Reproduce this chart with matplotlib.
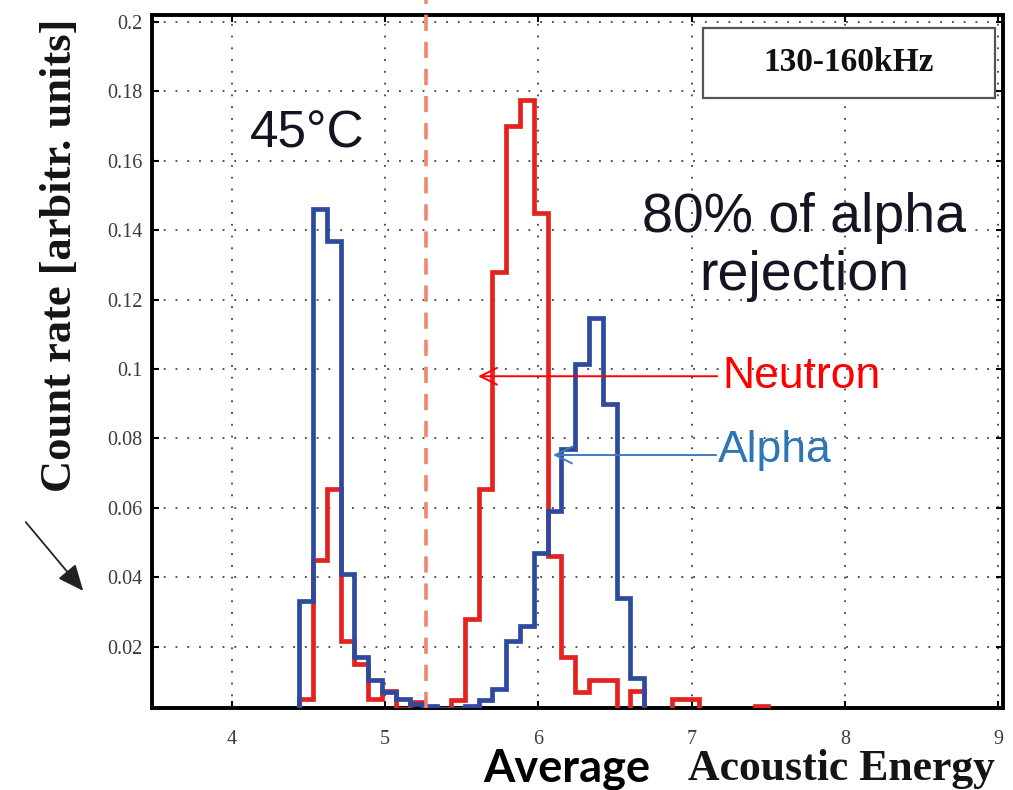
import matplotlib.pyplot as plt
from matplotlib.patches import Rectangle, FancyArrowPatch
from matplotlib.ticker import FixedLocator, FormatStrFormatter

# histogram bin edges (average acoustic energy)
edges = [4.44, 4.53, 4.62, 4.71, 4.80, 4.89, 4.98, 5.07, 5.16, 5.25, 5.34,
         5.43, 5.52, 5.61, 5.70, 5.79, 5.88, 5.97, 6.06, 6.15, 6.24, 6.33,
         6.42, 6.51, 6.60, 6.69, 6.78, 6.87, 6.96, 7.05, 7.14, 7.23, 7.32,
         7.41, 7.50]

# count rate per bin
neutron = [0.005, 0.045, 0.0654, 0.0215, 0.015, 0.005, 0.0073, 0.002, 0.004,
           0.002, 0.002, 0.0046, 0.028, 0.0654, 0.128, 0.170, 0.1776, 0.145,
           0.046, 0.017, 0.0068, 0.0103, 0.0103, 0.0, 0.0073, 0.0, 0.0, 0.005,
           0.005, 0.0, 0.0, 0.0, 0.0, 0.003]
alpha = [0.033, 0.146, 0.137, 0.041, 0.017, 0.0105, 0.007, 0.005, 0.0034,
         0.003, 0.002, 0.002, 0.003, 0.0046, 0.0078, 0.0215, 0.026, 0.047,
         0.059, 0.077, 0.1015, 0.1147, 0.090, 0.034, 0.011]

cut = 5.27          # dashed cut line
xticks = [4, 5, 6, 7, 8, 9]
yticks = [0.02, 0.04, 0.06, 0.08, 0.1, 0.12, 0.14, 0.16, 0.18, 0.2]

serif = 'Liberation Serif'
sans = 'Liberation Sans'

fig = plt.figure(figsize=(10.13, 7.9), dpi=100)
ax = fig.add_axes([152 / 1013, 82 / 790, 851 / 1013, 693 / 790])

ax.stairs(neutron, edges[:len(neutron) + 1], baseline=0, color='#E42321',
          lw=3.4, zorder=3)
ax.stairs(alpha, edges[:len(alpha) + 1], baseline=0, color='#2E4A9E',
          lw=3.4, zorder=4)

ax.axvline(cut, ymin=0, ymax=1.022, clip_on=False, color='#F0866A', lw=2.6,
           dashes=(4.5, 3), zorder=5)

ax.set_xlim(3.48, 9.03)
ax.set_ylim(0.0023, 0.202)
ax.xaxis.set_major_locator(FixedLocator(xticks))
ax.yaxis.set_major_locator(FixedLocator(yticks))
ax.yaxis.set_major_formatter(FormatStrFormatter('%g'))
ax.grid(True, color='#222222', lw=1.1, linestyle=(0, (1.2, 6.5)))
ax.tick_params(direction='in', length=5, width=1.5, top=True, right=True,
               labelcolor='#3c3c3c', labelsize=14.5)
ax.tick_params(axis='x', pad=16)
ax.tick_params(axis='y', pad=7)
for lab in ax.get_xticklabels() + ax.get_yticklabels():
    lab.set_family(serif)
for s in ax.spines.values():
    s.set_linewidth(2.8)

# frequency box
ax.add_patch(Rectangle((0.6475, 0.880), 0.343, 0.101, transform=ax.transAxes,
                       facecolor='white', edgecolor='#555555', lw=1.6,
                       zorder=6))
ax.text(0.819, 0.931, '130-160kHz', transform=ax.transAxes, ha='center',
        va='center', family=serif, weight='bold', fontsize=24,
        color='#111111', zorder=7)

ax.text(4.12, 0.1639, '45°C', family=sans, fontsize=37, color='#141422')
ax.text(7.733, 0.1394, '80% of alpha', family=sans, fontsize=40,
        color='#141422', ha='center')
ax.text(7.733, 0.1227, 'rejection', family=sans, fontsize=40,
        color='#141422', ha='center')

ax.text(7.198, 0.0945, 'Neutron', family=sans, fontsize=32, color='#FF0000')
ax.text(7.172, 0.0732, 'Alpha', family=sans, fontsize=32, color='#2E75B6')
ax.annotate('', xy=(5.607, 0.0979), xytext=(7.166, 0.0979),
            arrowprops=dict(arrowstyle='->,head_length=0.6,head_width=0.3',
                            color='#FF0000', lw=1.4, mutation_scale=20,
                            shrinkA=0, shrinkB=0), zorder=8)
ax.annotate('', xy=(6.096, 0.0752), xytext=(7.159, 0.0752),
            arrowprops=dict(arrowstyle='->,head_length=0.6,head_width=0.3',
                            color='#3E7CC1', lw=1.4, mutation_scale=20,
                            shrinkA=0, shrinkB=0), zorder=8)

# axis titles
fig.text(0.059, 0.6766, 'Count rate [arbitr. units]', rotation=90,
         ha='center', va='center', family=serif, weight='bold', fontsize=32,
         color='#141414')
fig.text(483 / 1013, 8 / 790, 'Average', family='Lato', weight='bold',
         fontsize=32.5, color='black', va='baseline')
fig.text(688 / 1013, 10 / 790, 'Acoustic Energy', family=serif,
         weight='bold', fontsize=31.5, color='#141414', va='baseline')

# pointer arrow on the left
fig.add_artist(FancyArrowPatch(
    (24 / 1013, 270 / 790), (85 / 1013, 197 / 790),
    transform=fig.transFigure, arrowstyle='-|>,head_length=0.8,head_width=0.35',
    mutation_scale=20, color='#222222', lw=1.3))

fig.savefig('out.png', dpi=100)
